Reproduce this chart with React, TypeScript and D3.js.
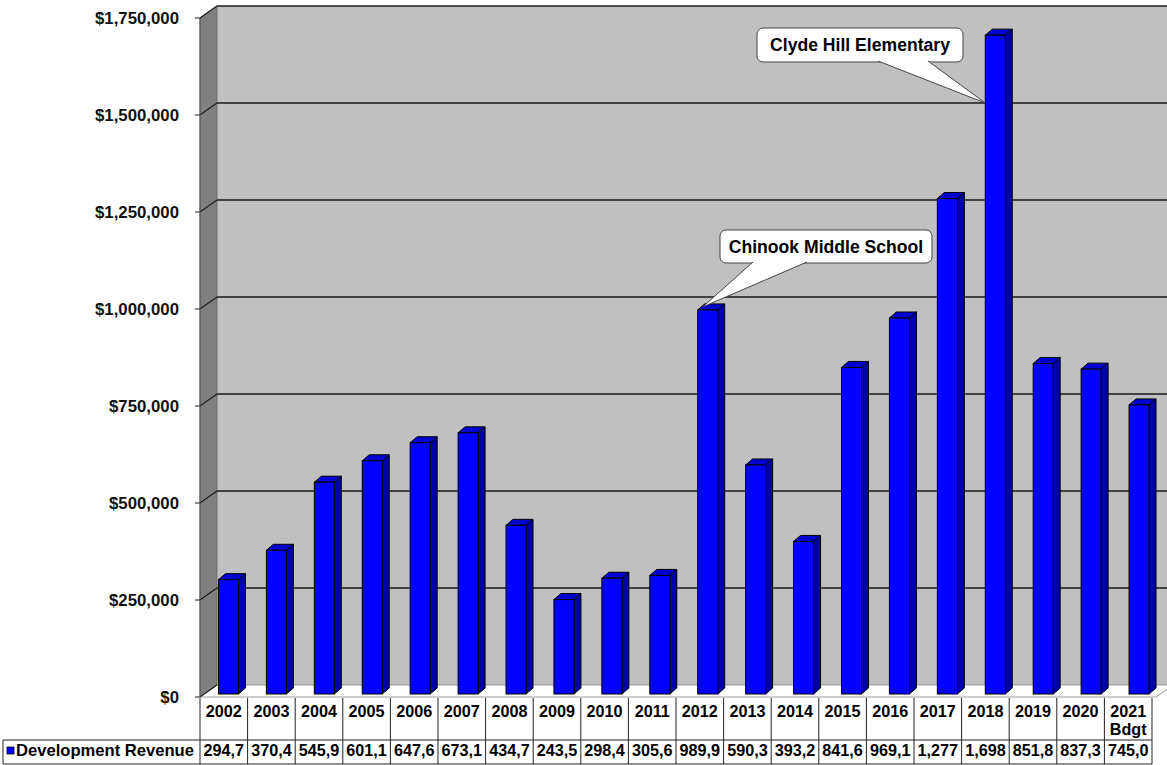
import { useEffect, useRef } from 'react';
import { format, scaleBand, scaleLinear, select } from 'd3';

const categories = ['2002', '2003', '2004', '2005', '2006', '2007', '2008', '2009', '2010', '2011', '2012', '2013', '2014', '2015', '2016', '2017', '2018', '2019', '2020', '2021 Bdgt'];
const revenue = [294700, 370400, 545900, 601100, 647600, 673100, 434700, 243500, 298400, 305600, 989900, 590300, 393200, 841600, 969100, 1277000, 1698000, 851800, 837300, 745000];
const yTicks = [0, 250000, 500000, 750000, 1000000, 1250000, 1500000, 1750000];
const seriesName = 'Development Revenue';
const callouts = [
  { category: '2012', text: 'Chinook Middle School' },
  { category: '2018', text: 'Clyde Hill Elementary' },
];

const FONT = '"Liberation Sans", Arial, sans-serif';

export default function App() {
  const svgRef = useRef<SVGSVGElement | null>(null);
  const width = 1167;
  const height = 765;

  useEffect(() => {
    document.body.style.margin = '0';
    const svgElement = svgRef.current;
    if (!svgElement) return;
    const svg = select(svgElement);
    svg.selectAll('*').remove();

    // depth of the 3D box and of the bars
    const depthX = 17;
    const depthY = -12;
    const barShiftY = -3;
    const barDX = 7;
    const barDY = -6;

    const frontLeft = 200;
    const frontRight = 1152;
    const y = scaleLinear().domain([0, 1750000]).range([697, 18]);
    const tableX = scaleBand<string>().domain(categories).range([frontLeft, frontRight]);
    const barX = scaleBand<string>().domain(categories).range([204.5, 1163]);
    const barW = 20;
    const backY = (v: number) => y(v) + depthY;

    // back wall
    svg.append('rect')
      .attr('x', frontLeft + depthX).attr('y', backY(1750000))
      .attr('width', width - frontLeft - depthX + 5).attr('height', backY(0) - backY(1750000))
      .attr('fill', '#c0c0c0');

    // side wall
    svg.append('path')
      .attr('d', `M${frontLeft},${y(1750000)} L${frontLeft + depthX},${backY(1750000)} L${frontLeft + depthX},${backY(0)} L${frontLeft},${y(0)} Z`)
      .attr('fill', '#808080')
      .attr('stroke', '#666')
      .attr('stroke-width', 0.8);

    // floor
    svg.append('path')
      .attr('d', `M${frontLeft},${y(0)} L${frontRight + 4},${y(0)} L${frontRight + 4 + depthX},${backY(0)} L${frontLeft + depthX},${backY(0)} Z`)
      .attr('fill', '#ffffff')
      .attr('stroke', '#9a9a9a')
      .attr('stroke-width', 1);

    // gridlines + ticks
    const grid = svg.append('g');
    yTicks.forEach((t) => {
      if (t > 0) {
        grid.append('line')
          .attr('x1', frontLeft + depthX).attr('x2', width + 2)
          .attr('y1', backY(t)).attr('y2', backY(t))
          .attr('stroke', '#1a1a1a').attr('stroke-width', 1.4);
      }
      grid.append('path')
        .attr('d', `M${frontLeft - 5},${y(t)} L${frontLeft},${y(t)} L${frontLeft + depthX},${backY(t)}`)
        .attr('fill', 'none').attr('stroke', '#1a1a1a').attr('stroke-width', 1.2);
      grid.append('text')
        .attr('x', 179).attr('y', y(t)).attr('dy', '0.36em')
        .attr('text-anchor', 'end')
        .attr('font-family', FONT).attr('font-weight', 'bold').attr('font-size', 16.8)
        .attr('fill', '#111')
        .text('$' + format(',')(t));
    });
    grid.append('line')
      .attr('x1', frontLeft).attr('x2', frontLeft)
      .attr('y1', y(1750000)).attr('y2', y(0))
      .attr('stroke', '#555').attr('stroke-width', 1);

    // bars
    const bars = svg.append('g');
    categories.forEach((c, i) => {
      const v = revenue[i];
      const x0 = (barX(c) ?? 0) + (barX.bandwidth() - barW) / 2;
      const yTop = y(v) + barShiftY;
      const yBot = y(0) + barShiftY;
      bars.append('path')
        .attr('d', `M${x0 + barW},${yTop} L${x0 + barW + barDX},${yTop + barDY} L${x0 + barW + barDX},${yBot + barDY} L${x0 + barW},${yBot} Z`)
        .attr('fill', '#0000a8').attr('stroke', '#000').attr('stroke-width', 1);
      bars.append('path')
        .attr('d', `M${x0},${yTop} L${x0 + barDX},${yTop + barDY} L${x0 + barW + barDX},${yTop + barDY} L${x0 + barW},${yTop} Z`)
        .attr('fill', '#0000d0').attr('stroke', '#000').attr('stroke-width', 1);
      bars.append('rect')
        .attr('x', x0).attr('y', yTop).attr('width', barW).attr('height', yBot - yTop)
        .attr('fill', '#0000ff').attr('stroke', '#000').attr('stroke-width', 1);
    });

    // callouts
    const boxes = [
      { x: 720, y: 230, w: 212, h: 33, baseA: 753, baseB: 807, tipDX: 5, tipDY: -3 },
      { x: 757, y: 28, w: 206, h: 34, baseA: 878, baseB: 928, tipDX: 0, tipDY: 0 },
    ];
    callouts.forEach((co, i) => {
      const b = boxes[i];
      const idx = categories.indexOf(co.category);
      const x0 = (barX(co.category) ?? 0) + (barX.bandwidth() - barW) / 2;
      const tipX = x0 + b.tipDX;
      const tipY = i === 0 ? y(revenue[idx]) + barShiftY + b.tipDY : backY(1500000);
      const g = svg.append('g');
      g.append('rect')
        .attr('x', b.x).attr('y', b.y).attr('width', b.w).attr('height', b.h)
        .attr('rx', 6).attr('fill', '#fff').attr('stroke', '#444').attr('stroke-width', 1);
      g.append('path')
        .attr('d', `M${b.baseA},${b.y + b.h - 1} L${tipX},${tipY} L${b.baseB},${b.y + b.h - 1}`)
        .attr('fill', '#fff').attr('stroke', '#444').attr('stroke-width', 1);
      g.append('text')
        .attr('x', b.x + b.w / 2).attr('y', b.y + 17).attr('dy', '0.35em')
        .attr('text-anchor', 'middle')
        .attr('font-family', FONT).attr('font-weight', 'bold').attr('font-size', 17.6)
        .attr('fill', '#000')
        .text(co.text);
    });

    // data table
    const table = svg.append('g').attr('font-family', FONT).attr('font-weight', 'bold').attr('font-size', 16.2).attr('fill', '#000');
    const headTop = y(0);
    const rowMid = 740;
    const rowBot = 764;
    const lineColor = '#222';
    categories.forEach((c, i) => {
      const cx = (tableX(c) ?? 0) + tableX.bandwidth() / 2;
      c.split(' ').forEach((part, j) => {
        table.append('text')
          .attr('x', cx).attr('y', 717 + j * 18)
          .attr('text-anchor', 'middle')
          .text(part);
      });
      table.append('text')
        .attr('x', cx).attr('y', 756)
        .attr('text-anchor', 'middle')
        .text(format(',')(revenue[i]).slice(0, 5));
    });
    const boundaries = categories.map((c) => tableX(c) ?? 0).concat([frontRight]);
    boundaries.forEach((bx) => {
      table.append('line')
        .attr('x1', bx).attr('x2', bx).attr('y1', headTop + 1).attr('y2', rowBot)
        .attr('stroke', lineColor).attr('stroke-width', 1);
    });
    table.append('line').attr('x1', 3).attr('x2', frontRight).attr('y1', rowMid).attr('y2', rowMid).attr('stroke', lineColor);
    table.append('line').attr('x1', 3).attr('x2', frontRight).attr('y1', rowBot).attr('y2', rowBot).attr('stroke', lineColor);
    table.append('line').attr('x1', 3).attr('x2', 3).attr('y1', rowMid).attr('y2', rowBot).attr('stroke', lineColor);
    table.append('rect')
      .attr('x', 7).attr('y', 747).attr('width', 7).attr('height', 7)
      .attr('fill', '#0000ff').attr('stroke', '#000').attr('stroke-width', 0.8);
    table.append('text')
      .attr('x', 16).attr('y', 756)
      .attr('font-size', 16.6)
      .text(seriesName);
  }, []);

  return <svg ref={svgRef} width={width} height={height} style={{ display: 'block', background: '#fff' }} />;
}
